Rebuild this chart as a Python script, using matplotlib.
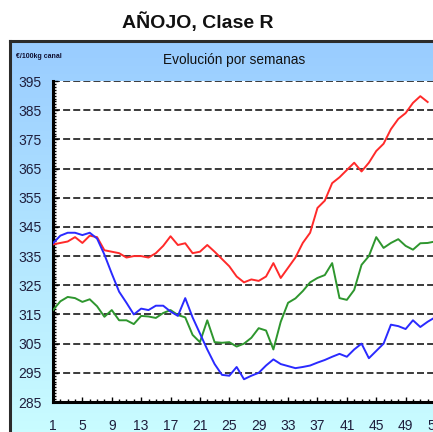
import numpy as np
import matplotlib
matplotlib.use("Agg")
import matplotlib.pyplot as plt
from matplotlib.ticker import MultipleLocator, FixedLocator

plt.rcParams['font.family'] = ['Liberation Sans', 'DejaVu Sans']

title = "AÑOJO, Clase R"
subtitle = "Evolución por semanas"
unit_label = "€/100kg canal"

x_ticks = list(range(1, 54, 4))
y_ticks = list(range(285, 396, 10))

red = [339, 339.5, 340, 341.5, 339.5, 342, 341.5, 337, 336.5, 336,
       334.5, 335, 335, 334.5, 336, 338.5, 341.8, 338.8, 339.4, 336,
       336.5, 338.8, 336.5, 334, 331.5, 328, 326, 327, 326.5, 328,
       332.6, 327.5, 331, 334.5, 339.5, 343, 351.5, 354, 360, 362,
       364.5, 367, 364, 367, 371, 373.5, 378.5, 382, 384, 387.5,
       389.8, 387.8]
green = [316.5, 319.5, 321, 320.6, 319.3, 320.2, 317.8, 314.2, 316.5, 313,
         313, 311.7, 314.5, 314.3, 313.8, 315.5, 316.5, 314.8, 314, 308,
         305.5, 313, 305.5, 305.3, 305.5, 304, 305, 307, 310.3, 309.5,
         303, 312.5, 319, 320.5, 323, 326, 327.5, 328.5, 332.6, 320.6,
         320, 323.4, 332, 335, 341.5, 337.8, 339.5, 340.8, 338.5, 337.2,
         339.4, 339.5, 340]
blue = [339.4, 342, 343, 343, 342.2, 343, 341, 335.5, 329, 322.8,
        319, 315, 317, 316.5, 318, 318, 316, 314.5, 320.6, 314,
        308.5, 303, 298, 294.3, 294, 297, 292.8, 294, 295, 297.5,
        299.6, 298, 297.3, 296.6, 297, 297.5, 298.5, 299.4, 300.5, 301.5,
        300.5, 303, 305, 300, 302.5, 305, 311.5, 311, 310, 313,
        310.7, 312.5, 314]

W, H = 433, 432
fig = plt.figure(figsize=(W / 100, H / 100), dpi=100)
fig.patch.set_facecolor('white')

# chart area background with gradient
bx0, by_top = 10, 41
bg = fig.add_axes([bx0 / W, -0.05, 1.05, (H - by_top) / H + 0.05])
top_c = np.array([0.60, 0.80, 1.0])
bot_c = np.array([0.80, 1.0, 1.0])
t = np.linspace(0, 1, 256)[:, None]
grad = top_c[None, :] * (1 - t) + bot_c[None, :] * t
grad = np.repeat(grad[:, None, :], 2, axis=1)
bg.imshow(grad, aspect='auto', extent=[0, 1, 0, 1], origin='upper')
bg.set_xlim(0, 1)
bg.set_ylim(0, 1)
bg.set_xticks([])
bg.set_yticks([])
for s in bg.spines.values():
    s.set_color('#2b2b2b')
    s.set_linewidth(2.2)

# main plot area
left_px, right_px = 53, 435
top_px, bot_px = 81, 402
ax = fig.add_axes([left_px / W, (H - bot_px) / H,
                   (right_px - left_px) / W, (bot_px - top_px) / H])
ax.set_facecolor('white')
ax.set_xlim(1, 53)
ax.set_ylim(285, 395)

weeks_r = np.arange(1, len(red) + 1)
weeks_g = np.arange(1, len(green) + 1)
weeks_b = np.arange(1, len(blue) + 1)
ax.plot(weeks_r, red, color='#ff2a2a', lw=1.4, zorder=3,
        solid_joinstyle='round')
ax.plot(weeks_g, green, color='#2e962e', lw=1.4, zorder=3,
        solid_joinstyle='round')
ax.plot(weeks_b, blue, color='#2a2aff', lw=1.4, zorder=3,
        solid_joinstyle='round')

ax.yaxis.set_major_locator(FixedLocator(y_ticks))
ax.yaxis.set_minor_locator(MultipleLocator(1))
ax.xaxis.set_major_locator(FixedLocator(x_ticks))
ax.xaxis.set_minor_locator(MultipleLocator(1))

for y in y_ticks[1:]:
    ax.axhline(y, color='#3a3a3a', lw=1.4, ls=(0, (3.6, 1.6)), zorder=1)

ax.tick_params(axis='both', which='both', direction='in', colors='black',
               width=1.0)
ax.tick_params(axis='both', which='major', length=3.5)
ax.tick_params(axis='both', which='minor', length=2.5)
ax.tick_params(axis='y', which='major', pad=8, labelsize=10,
               labelcolor='#1e1e3c')
ax.tick_params(axis='x', which='major', pad=12, labelsize=10,
               labelcolor='#1e1e3c')
ax.tick_params(top=False, right=False, which='both')

for side in ['top', 'right']:
    ax.spines[side].set_visible(False)
for side in ['left', 'bottom']:
    ax.spines[side].set_color('black')
    ax.spines[side].set_linewidth(2.2)

fig.text(198 / W, 1 - 22 / H, title, ha='center', va='center',
         fontsize=14, fontweight='bold', color='#111111')
fig.text(234 / W, 1 - 60 / H, subtitle, ha='center', va='center',
         fontsize=9.8, color='#111111')
fig.text(16 / W, 1 - 56 / H, unit_label, ha='left', va='center',
         fontsize=5, fontweight='bold', color='#111133')

fig.savefig('out.png', dpi=100, facecolor='white')
